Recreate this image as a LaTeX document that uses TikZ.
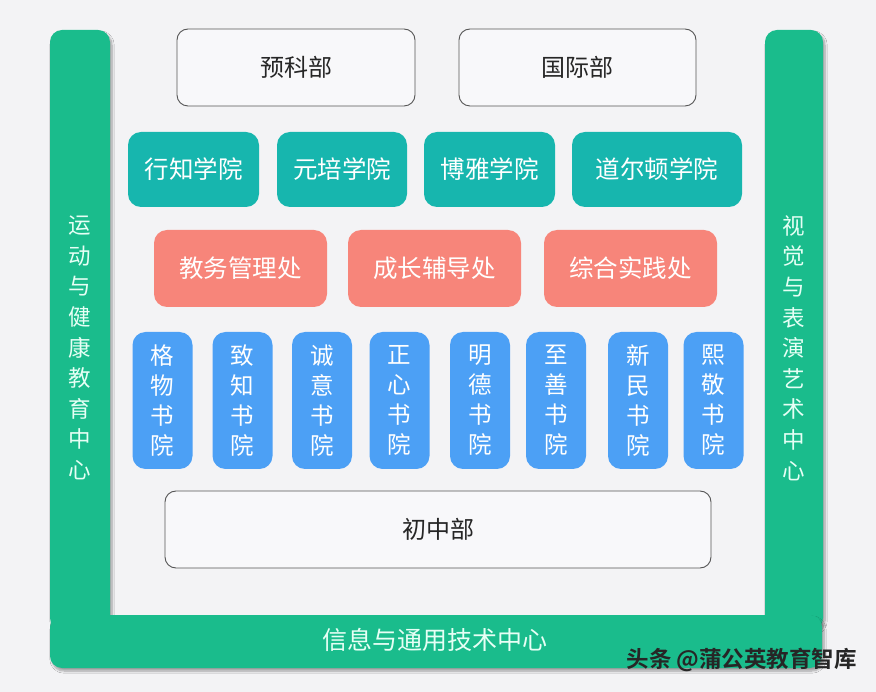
\documentclass[tikz,border=0pt]{standalone}
\usepackage{fontspec}
\setmainfont{Noto Sans CJK SC}
\newfontfamily\cjkbold{Noto Sans CJK SC Bold}
\usetikzlibrary{shadows.blur}
\definecolor{bgc}{HTML}{F3F3F5}
\definecolor{barc}{HTML}{1ABC8C}
\definecolor{tealc}{HTML}{17B6AE}
\definecolor{salmonc}{HTML}{F7857A}
\definecolor{bluec}{HTML}{4CA0F5}
\definecolor{boxline}{HTML}{555555}
\definecolor{boxfill}{HTML}{F8F8FA}
\definecolor{bartext}{HTML}{E6FFF5}
\tikzset{
  wbox/.style={draw=boxline, line width=0.9pt, fill=boxfill, rounded corners=11pt,
    inner sep=0pt, text=black!85, font=\fontsize{24}{28}\selectfont},
  tbox/.style={fill=tealc, rounded corners=13pt, inner sep=0pt, text=white,
    minimum height=75pt, font=\fontsize{24.5}{28}\selectfont},
  sbox/.style={fill=salmonc, rounded corners=13pt, inner sep=0pt, text=white,
    minimum width=173pt, minimum height=77pt, font=\fontsize{24.5}{28}\selectfont},
  bbox/.style={fill=bluec, rounded corners=13pt, inner sep=0pt, text=white,
    minimum width=60pt, minimum height=137pt, align=center,
    font=\fontsize{23.5}{30}\selectfont},
  barshape/.style={fill=barc, rounded corners=12pt,
    blur shadow={shadow xshift=2pt, shadow yshift=-3pt, shadow blur steps=8, shadow opacity=35}},
  bartxt/.style={text=bartext, align=center, inner sep=0pt, font=\fontsize{22.5}{30.6}\selectfont},
}
\begin{document}
\begin{tikzpicture}[x=1pt,y=-1pt]
\useasboundingbox (0,0) rectangle (876,692);
\fill[bgc] (0,0) rectangle (876,692);

% side and bottom bars
\path[barshape] (50,30) rectangle (110,630);
\path[barshape] (765,30) rectangle (823,630);
\path[barshape] (50,615) rectangle (822,668);

\node[bartxt] (lefttxt) at (80,348) {运\\动\\与\\健\\康\\教\\育\\中\\心};
\node[bartxt] (righttxt) at (794,348) {视\\觉\\与\\表\\演\\艺\\术\\中\\心};
\node[text=bartext, inner sep=0pt, font=\fontsize{25}{28}\selectfont] (bottomtxt) at (435,640) {信息与通用技术中心};

% top row
\node[wbox, minimum width=238pt, minimum height=77pt] (yuke) at (296,67.5) {预科部};
\node[wbox, minimum width=237pt, minimum height=77pt] (guoji) at (577.5,67.5) {国际部};

% teal row
\node[tbox, minimum width=131pt] (xingzhi) at (193.5,169.5) {行知学院};
\node[tbox, minimum width=130pt] (yuanpei) at (342,169.5) {元培学院};
\node[tbox, minimum width=131pt] (boya) at (489.5,169.5) {博雅学院};
\node[tbox, minimum width=170pt] (daoerdun) at (657,169.5) {道尔顿学院};

% salmon row
\node[sbox] (jiaowu) at (240.5,268.5) {教务管理处};
\node[sbox] (chengzhang) at (434.5,268.5) {成长辅导处};
\node[sbox] (zonghe) at (630.5,268.5) {综合实践处};

% blue row
\node[bbox] (gewu) at (162.5,400.5) {格\\物\\书\\院};
\node[bbox] (zhizhi) at (242.5,400.5) {致\\知\\书\\院};
\node[bbox] (chengyi) at (322,400.5) {诚\\意\\书\\院};
\node[bbox] (zhengxin) at (399.5,400.5) {正\\心\\书\\院};
\node[bbox] (mingde) at (480,400.5) {明\\德\\书\\院};
\node[bbox] (zhishan) at (556,400.5) {至\\善\\书\\院};
\node[bbox] (xinmin) at (638,400.5) {新\\民\\书\\院};
\node[bbox] (xijing) at (713.5,400.5) {熙\\敬\\书\\院};

% bottom box
\node[wbox, minimum width=546pt, minimum height=77pt] (chuzhong) at (438,529.5) {初中部};

% watermark
\node[anchor=east, inner sep=0pt, text=black!85, font=\cjkbold\fontsize{22.5}{26}\selectfont] (wm) at (857,660) {头条 @蒲公英教育智库};
\end{tikzpicture}
\end{document}
